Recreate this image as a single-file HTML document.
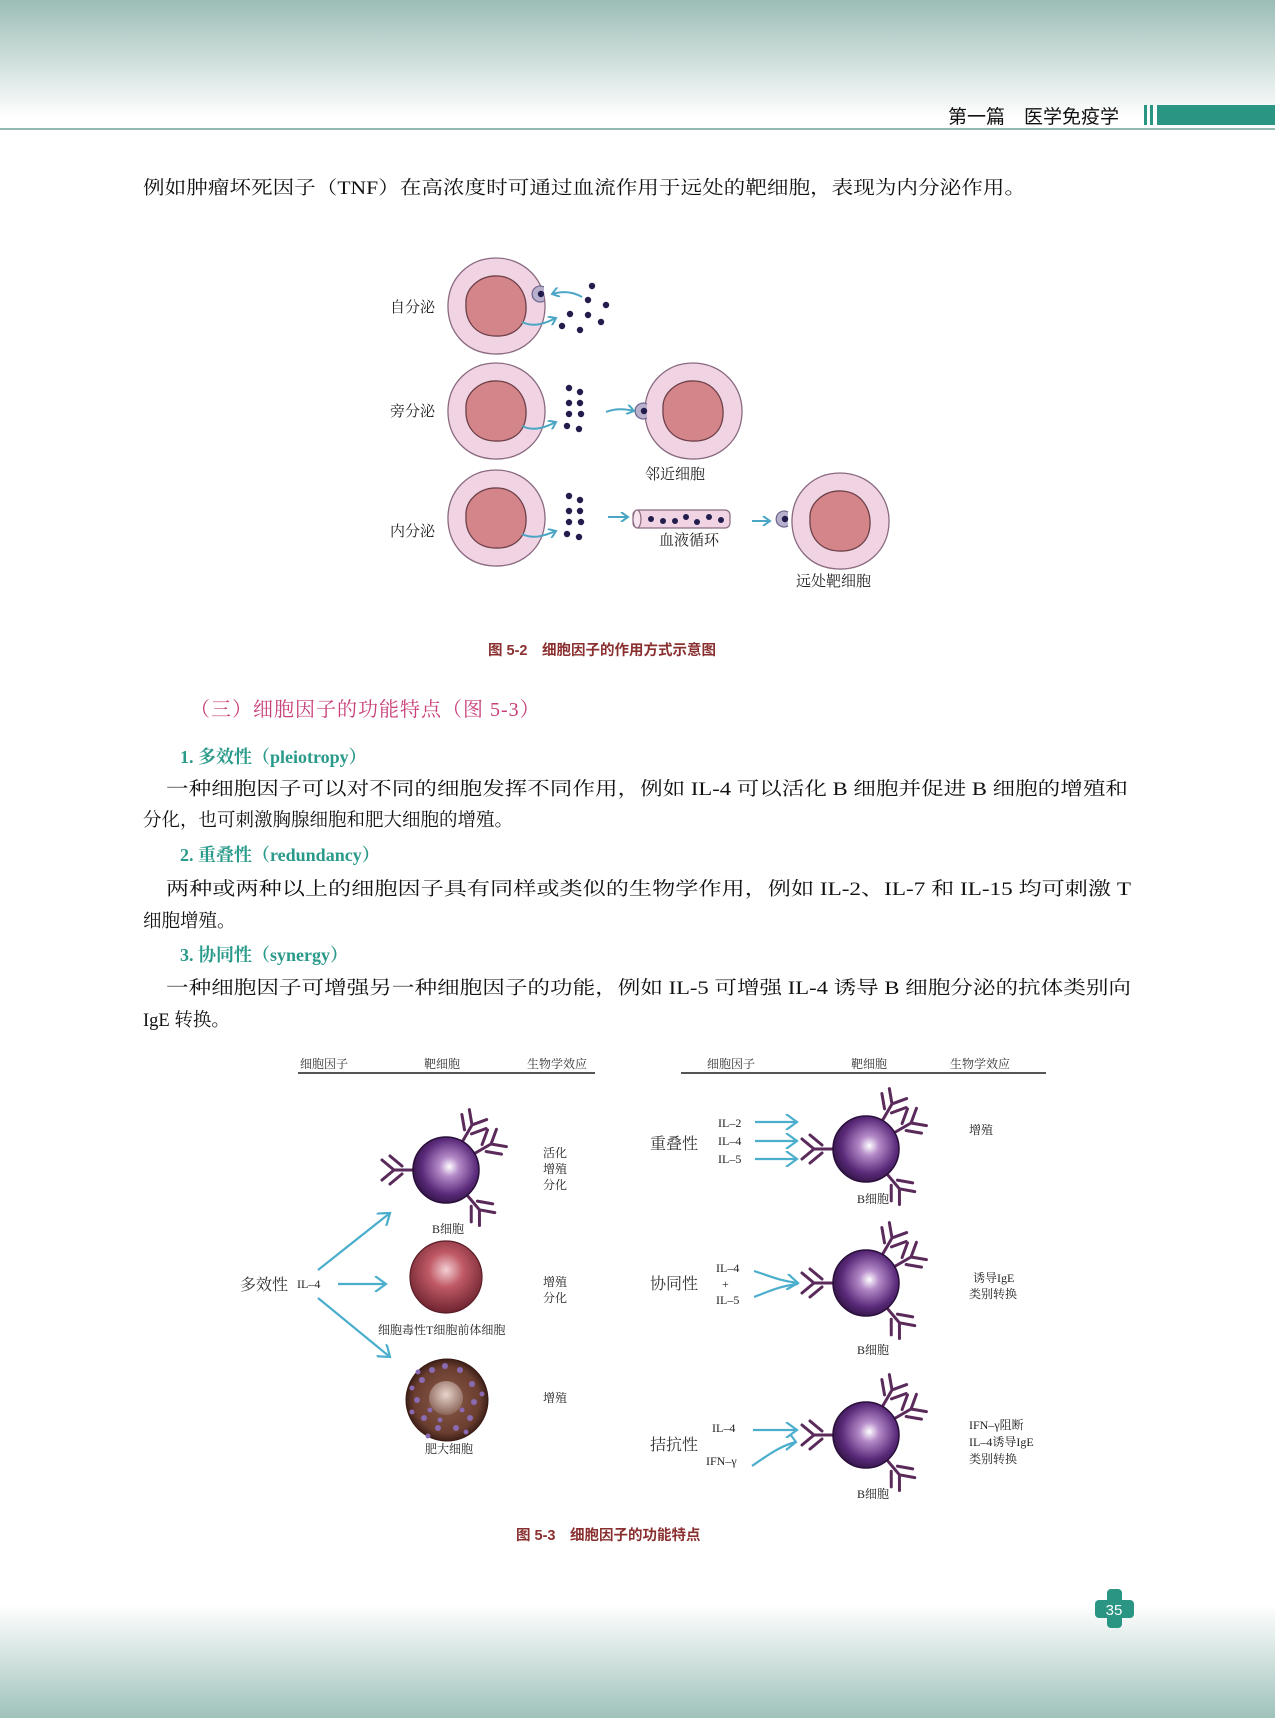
<!DOCTYPE html>
<html><head><meta charset="utf-8"><style>
html,body{margin:0;padding:0;background:#fff;}
svg{display:block;}
.s{font-family:"Liberation Serif","Noto Serif CJK SC",serif;}
.h{font-family:"Liberation Sans","Noto Sans CJK SC",sans-serif;}
</style></head><body>
<svg width="1275" height="1718" viewBox="0 0 1275 1718" xmlns="http://www.w3.org/2000/svg">
<defs>
<linearGradient id="top" x1="0" y1="0" x2="0" y2="1"><stop offset="0" stop-color="#9bbdb6"/><stop offset="1" stop-color="#ffffff"/></linearGradient>
<linearGradient id="bot" x1="0" y1="0" x2="0" y2="1"><stop offset="0" stop-color="#ffffff"/><stop offset="1" stop-color="#9fc2bb"/></linearGradient>
<radialGradient id="bc" cx="0.55" cy="0.45" r="0.6"><stop offset="0" stop-color="#ffffff"/><stop offset="0.25" stop-color="#b48ac8"/><stop offset="0.7" stop-color="#5a2a7a"/><stop offset="1" stop-color="#2e1240"/></radialGradient>
<radialGradient id="rc" cx="0.5" cy="0.4" r="0.6"><stop offset="0" stop-color="#f3d0d4"/><stop offset="0.4" stop-color="#c05a66"/><stop offset="1" stop-color="#6e2430"/></radialGradient>
<radialGradient id="mc" cx="0.5" cy="0.5" r="0.5"><stop offset="0" stop-color="#8a5a48"/><stop offset="0.8" stop-color="#6a3e30"/><stop offset="1" stop-color="#3e2018"/></radialGradient>
<radialGradient id="mn" cx="0.5" cy="0.4" r="0.6"><stop offset="0" stop-color="#e8d4cc"/><stop offset="1" stop-color="#8a6458"/></radialGradient>
<g id="Y" stroke="#5a2a5a" stroke-width="3" fill="none" stroke-linecap="round">
<path d="M0 0 L22 0 M22 0 L34 -10 M22 0 L34 10 M14 -4 L26 -14 M14 4 L26 14"/>
</g>
<g id="bcell">
<use href="#Y" transform="rotate(180) translate(30 0)"/>
<use href="#Y" transform="rotate(-60) translate(30 0)"/>
<use href="#Y" transform="rotate(-30) translate(30 0)"/>
<use href="#Y" transform="rotate(50) translate(30 0)"/>
<circle r="33" fill="url(#bc)" stroke="#2a0f3a" stroke-width="1.5"/>
</g>
<g id="cell">
<path d="M0 -48 C28 -48 50 -26 49 2 C48 30 26 49 -2 48 C-30 47 -49 26 -48 -2 C-47 -28 -27 -48 0 -48Z" fill="#f0d4e4" stroke="#8a6a80" stroke-width="1.3"/>
<path d="M2 -30 C20 -29 31 -14 30 4 C29 22 16 31 -2 30 C-20 29 -31 16 -30 -2 C-31 -18 -16 -31 2 -30Z" fill="#d4858a" stroke="#6e4048" stroke-width="1.3"/>
</g>
<g id="dots" fill="#221d4c">
<circle cx="0" cy="0" r="3.2"/><circle cx="11" cy="4" r="3.2"/><circle cx="0" cy="15" r="3.2"/><circle cx="11" cy="15" r="3.2"/><circle cx="0" cy="26" r="3.2"/><circle cx="12" cy="26" r="3.2"/><circle cx="-2" cy="38" r="3.2"/><circle cx="10" cy="41" r="3.2"/>
</g>
<g id="rec"><path d="M6 -7 A8 8 0 1 0 6 7" fill="#b8b0cc" stroke="#6a628a" stroke-width="1.2"/><circle cx="3" cy="0" r="3.2" fill="#221d4c"/></g>
<marker id="ar" markerWidth="10" markerHeight="10" refX="8" refY="5" orient="auto" markerUnits="userSpaceOnUse"><path d="M1 0 L8 5 L1 10" fill="none" stroke="#4aa6c4" stroke-width="2"/></marker>
<marker id="ar2" markerWidth="14" markerHeight="16" refX="12" refY="8" orient="auto" markerUnits="userSpaceOnUse"><path d="M1 0 L12 8 L1 16" fill="none" stroke="#4aaecc" stroke-width="2.2"/></marker>
</defs>

<rect x="0" y="0" width="1275" height="118" fill="url(#top)"/>
<rect x="0" y="1605" width="1275" height="113" fill="url(#bot)"/>
<line x1="0" y1="129" x2="1275" y2="129" stroke="#6fa39a" stroke-width="1.5"/>
<text class="h" x="948" y="123" font-size="19" fill="#111">第一篇　医学免疫学</text>
<rect x="1144" y="105" width="3" height="20" fill="#2a9583"/>
<rect x="1150" y="105" width="3" height="20" fill="#2a9583"/>
<rect x="1157" y="105" width="118" height="20" fill="#2a9583"/>

<text class="s" x="143" y="194" font-size="18.5" fill="#111" textLength="883" lengthAdjust="spacingAndGlyphs">例如肿瘤坏死因子（TNF）在高浓度时可通过血流作用于远处的靶细胞，表现为内分泌作用。</text>

<!-- Figure 5-2 -->
<g class="s" font-size="15" fill="#222">
<use href="#cell" x="496" y="306"/>
<use href="#cell" x="496" y="411"/>
<use href="#cell" x="693" y="411"/>
<use href="#cell" x="496" y="518"/>
<use href="#cell" x="840" y="521"/>
<text x="390" y="312">自分泌</text>
<text x="390" y="416">旁分泌</text>
<text x="390" y="536">内分泌</text>
<text x="645" y="479">邻近细胞</text>
<text x="659" y="545">血液循环</text>
<text x="796" y="586">远处靶细胞</text>
<text x="488" y="655" font-size="14.5" font-weight="bold" fill="#8a2f2f" class="h">图 5-2　细胞因子的作用方式示意图</text>
</g>
<g fill="#221d4c">
<circle cx="592" cy="286" r="3.2"/><circle cx="588" cy="300" r="3.2"/><circle cx="606" cy="305" r="3.2"/><circle cx="570" cy="314" r="3.2"/><circle cx="588" cy="315" r="3.2"/><circle cx="601" cy="322" r="3.2"/><circle cx="562" cy="326" r="3.2"/><circle cx="580" cy="330" r="3.2"/>
</g>
<use href="#dots" x="569" y="388"/>
<use href="#dots" x="569" y="496"/>
<use href="#rec" x="538" y="294"/>
<use href="#rec" x="641" y="411"/>
<use href="#rec" x="782" y="519"/>
<g stroke="#4aa6c4" stroke-width="2" fill="none">
<path d="M582 297 C572 291 562 291 552 294" marker-end="url(#ar)"/>
<path d="M522 322 C534 328 546 323 556 318" marker-end="url(#ar)"/>
<path d="M522 426 C534 432 546 427 556 422" marker-end="url(#ar)"/>
<path d="M606 412 C616 408 626 409 634 411" marker-end="url(#ar)"/>
<path d="M522 534 C534 540 546 535 556 531" marker-end="url(#ar)"/>
<path d="M608 517 L628 517" marker-end="url(#ar)"/>
<path d="M752 521 L770 521" marker-end="url(#ar)"/>
</g>
<rect x="633" y="510" width="97" height="18" rx="5" fill="#f0d4e4" stroke="#8a6a80" stroke-width="1.2"/>
<ellipse cx="637" cy="519" rx="4" ry="9" fill="#f6e4ee" stroke="#8a6a80" stroke-width="1.2"/>
<g fill="#221d4c"><circle cx="651" cy="519" r="3"/><circle cx="663" cy="521" r="3"/><circle cx="675" cy="521" r="3"/><circle cx="686" cy="517" r="3"/><circle cx="697" cy="522" r="3"/><circle cx="709" cy="517" r="3"/><circle cx="721" cy="520" r="3"/></g>

<!-- Section text -->
<text x="190" y="716" font-size="20" fill="#c8407a" class="s" letter-spacing="1">（三）细胞因子的功能特点（图 5-3）</text>
<g class="s" font-weight="bold" fill="#2a9a8a" font-size="18">
<text x="180" y="763">1. 多效性（pleiotropy）</text>
<text x="180" y="861">2. 重叠性（redundancy）</text>
<text x="180" y="961">3. 协同性（synergy）</text>
</g>
<g class="s" font-size="18.5" fill="#111">
<text x="166" y="795" textLength="962" lengthAdjust="spacingAndGlyphs">一种细胞因子可以对不同的细胞发挥不同作用，例如 IL-4 可以活化 B 细胞并促进 B 细胞的增殖和</text>
<text x="143" y="826">分化，也可刺激胸腺细胞和肥大细胞的增殖。</text>
<text x="166" y="895" textLength="965" lengthAdjust="spacingAndGlyphs">两种或两种以上的细胞因子具有同样或类似的生物学作用，例如 IL-2、IL-7 和 IL-15 均可刺激 T</text>
<text x="143" y="927">细胞增殖。</text>
<text x="166" y="994" textLength="965" lengthAdjust="spacingAndGlyphs">一种细胞因子可增强另一种细胞因子的功能，例如 IL-5 可增强 IL-4 诱导 B 细胞分泌的抗体类别向</text>
<text x="143" y="1026">IgE 转换。</text>
</g>

<!-- Figure 5-3 -->
<g class="s" fill="#333" font-size="12">
<text x="300" y="1068">细胞因子</text><text x="424" y="1068">靶细胞</text><text x="527" y="1068">生物学效应</text>
<text x="707" y="1068">细胞因子</text><text x="851" y="1068">靶细胞</text><text x="950" y="1068">生物学效应</text>
</g>
<line x1="298" y1="1073" x2="595" y2="1073" stroke="#555" stroke-width="2"/>
<line x1="681" y1="1073" x2="1046" y2="1073" stroke="#555" stroke-width="2"/>

<use href="#bcell" x="446" y="1170"/>
<circle cx="446" cy="1277" r="36" fill="url(#rc)" stroke="#5a1e28" stroke-width="1.2"/>
<circle cx="447" cy="1400" r="41" fill="url(#mc)" stroke="#3a1a14"/>
<circle cx="446" cy="1398" r="17" fill="url(#mn)"/>
<g fill="#8a6ab0">
<circle cx="422" cy="1380" r="3"/><circle cx="432" cy="1370" r="3"/><circle cx="460" cy="1370" r="3"/><circle cx="472" cy="1384" r="3"/><circle cx="474" cy="1402" r="3"/><circle cx="470" cy="1418" r="3"/><circle cx="456" cy="1428" r="3"/><circle cx="438" cy="1428" r="3"/><circle cx="424" cy="1418" r="3"/><circle cx="417" cy="1400" r="3"/><circle cx="412" cy="1388" r="2.5"/><circle cx="445" cy="1366" r="3"/><circle cx="482" cy="1394" r="2.5"/><circle cx="466" cy="1432" r="2.5"/><circle cx="428" cy="1436" r="2.5"/><circle cx="412" cy="1412" r="2.5"/><circle cx="440" cy="1420" r="2.5"/><circle cx="430" cy="1410" r="2.5"/><circle cx="462" cy="1410" r="2.5"/><circle cx="418" cy="1372" r="2.5"/>
</g>
<use href="#bcell" x="866" y="1149"/>
<use href="#bcell" x="866" y="1283"/>
<use href="#bcell" x="866" y="1435"/>

<g stroke="#4aaecc" stroke-width="2.2" fill="none">
<path d="M318 1270 L390 1213" marker-end="url(#ar2)"/>
<path d="M338 1284 L386 1284" marker-end="url(#ar2)"/>
<path d="M318 1298 L390 1357" marker-end="url(#ar2)"/>
<path d="M755 1122 L797 1122" marker-end="url(#ar2)"/>
<path d="M755 1141 L797 1141" marker-end="url(#ar2)"/>
<path d="M755 1159 L797 1159" marker-end="url(#ar2)"/>
<path d="M754 1271 C770 1276 780 1281 798 1283" marker-end="url(#ar2)"/>
<path d="M754 1297 C770 1291 780 1286 798 1284"/>
<path d="M753 1430 L797 1430" marker-end="url(#ar2)"/>
<path d="M752 1466 C768 1455 780 1446 796 1442"/>
<path d="M790 1434 L796 1442 L786 1450"/>
</g>

<g class="s" fill="#222" font-size="12">
<text x="432" y="1233">B细胞</text>
<text x="378" y="1334">细胞毒性T细胞前体细胞</text>
<text x="425" y="1453">肥大细胞</text>
<text x="543" y="1157">活化</text><text x="543" y="1173">增殖</text><text x="543" y="1189">分化</text>
<text x="543" y="1286">增殖</text><text x="543" y="1302">分化</text>
<text x="543" y="1402">增殖</text>
<text x="297" y="1288">IL–4</text>
<text x="718" y="1127">IL–2</text><text x="718" y="1145">IL–4</text><text x="718" y="1163">IL–5</text>
<text x="857" y="1203">B细胞</text>
<text x="969" y="1134">增殖</text>
<text x="716" y="1272">IL–4</text><text x="722" y="1288">+</text><text x="716" y="1304">IL–5</text>
<text x="857" y="1354">B细胞</text>
<text x="973" y="1282">诱导IgE</text><text x="969" y="1298">类别转换</text>
<text x="712" y="1432">IL–4</text><text x="706" y="1465">IFN–γ</text>
<text x="857" y="1498">B细胞</text>
<text x="969" y="1429">IFN–γ阻断</text><text x="969" y="1446">IL–4诱导IgE</text><text x="969" y="1463">类别转换</text>
</g>
<g class="s" fill="#333" font-size="16">
<text x="240" y="1290">多效性</text>
<text x="650" y="1149">重叠性</text>
<text x="650" y="1289">协同性</text>
<text x="650" y="1450">拮抗性</text>
</g>
<text class="h" x="516" y="1540" font-size="14.5" font-weight="bold" fill="#8a2f2f">图 5-3　细胞因子的功能特点</text>

<!-- page number -->
<rect x="1107" y="1589" width="15" height="39" rx="4" fill="#2a9583"/>
<rect x="1095" y="1600" width="39" height="18" rx="4" fill="#2a9583"/>
<text class="h" x="1114" y="1615" font-size="15" fill="#fff" text-anchor="middle">35</text>
</svg>
</body></html>
